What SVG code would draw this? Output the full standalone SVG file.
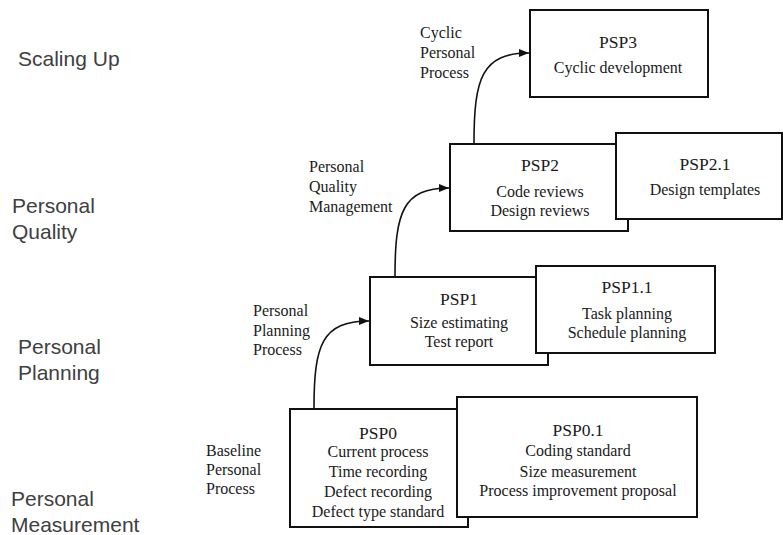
<svg xmlns="http://www.w3.org/2000/svg" width="783" height="535" viewBox="0 0 783 535">
<style>
.box{fill:#fff;stroke:#111;stroke-width:2}
.t{font-family:"Liberation Serif","Times New Roman",serif;font-size:16px;fill:#1a1a1a;text-anchor:middle}
.h{font-size:17.5px}
.s{font-family:"Liberation Serif","Times New Roman",serif;font-size:16px;fill:#1a1a1a}
.lv{font-family:"Liberation Sans",Arial,sans-serif;font-size:21px;fill:#404040}
.conn{fill:none;stroke:#111;stroke-width:1.6}
</style>
<defs>
<marker id="ah" viewBox="0 0 10 10" refX="10" refY="5" markerWidth="10" markerHeight="10" markerUnits="userSpaceOnUse" orient="auto">
<path d="M0,1 L10,5 L0,9 Z" fill="#111"/>
</marker>
</defs>
<rect width="783" height="535" fill="#fff"/>
<g id="levels">
<text class="lv" x="18" y="66">Scaling Up</text>
<text class="lv" x="12" y="213">Personal</text>
<text class="lv" x="12" y="239">Quality</text>
<text class="lv" x="18" y="354">Personal</text>
<text class="lv" x="18" y="380">Planning</text>
<text class="lv" x="11" y="506">Personal</text>
<text class="lv" x="11" y="532">Measurement</text>
</g>
<g id="phase-labels">
<text class="s" x="420" y="38">Cyclic</text>
<text class="s" x="420" y="58">Personal</text>
<text class="s" x="420" y="78">Process</text>
<text class="s" x="309" y="172">Personal</text>
<text class="s" x="309" y="192">Quality</text>
<text class="s" x="309" y="212">Management</text>
<text class="s" x="253" y="316">Personal</text>
<text class="s" x="253" y="336">Planning</text>
<text class="s" x="253" y="355">Process</text>
<text class="s" x="206" y="456">Baseline</text>
<text class="s" x="206" y="475">Personal</text>
<text class="s" x="206" y="494">Process</text>
</g>
<g id="connectors">
<path class="conn" marker-end="url(#ah)" d="M314,408 C314,345 322,321 369,321"/>
<path class="conn" marker-end="url(#ah)" d="M395,276 C395,212 403,188 449,188"/>
<path class="conn" marker-end="url(#ah)" d="M474,143 C474,78 482,53 529,53"/>
</g>
<g id="psp3">
<rect class="box" x="530" y="10" width="178" height="87"/>
<text class="t h" x="618" y="48">PSP3</text>
<text class="t" x="618" y="73">Cyclic development</text>
</g>
<g id="psp2">
<rect class="box" x="450" y="144" width="178" height="87"/>
<text class="t h" x="540" y="171">PSP2</text>
<text class="t" x="540" y="197">Code reviews</text>
<text class="t" x="540" y="216">Design reviews</text>
</g>
<g id="psp2-1">
<rect class="box" x="616" y="133" width="166" height="86"/>
<text class="t h" x="705" y="170">PSP2.1</text>
<text class="t" x="705" y="195">Design templates</text>
</g>
<g id="psp1">
<rect class="box" x="370" y="277" width="178" height="88"/>
<text class="t h" x="459" y="305">PSP1</text>
<text class="t" x="459" y="328">Size estimating</text>
<text class="t" x="459" y="347">Test report</text>
</g>
<g id="psp1-1">
<rect class="box" x="536" y="266" width="179" height="87"/>
<text class="t h" x="627" y="293">PSP1.1</text>
<text class="t" x="627" y="319">Task planning</text>
<text class="t" x="627" y="338">Schedule planning</text>
</g>
<g id="psp0">
<rect class="box" x="290" y="409" width="178" height="118"/>
<text class="t h" x="378" y="439">PSP0</text>
<text class="t" x="378" y="457">Current process</text>
<text class="t" x="378" y="477">Time recording</text>
<text class="t" x="378" y="497">Defect recording</text>
<text class="t" x="378" y="517">Defect type standard</text>
</g>
<g id="psp0-1">
<rect class="box" x="457" y="397" width="240" height="120"/>
<text class="t h" x="578" y="436">PSP0.1</text>
<text class="t" x="578" y="456">Coding standard</text>
<text class="t" x="578" y="477">Size measurement</text>
<text class="t" x="578" y="496">Process improvement proposal</text>
</g>
</svg>
